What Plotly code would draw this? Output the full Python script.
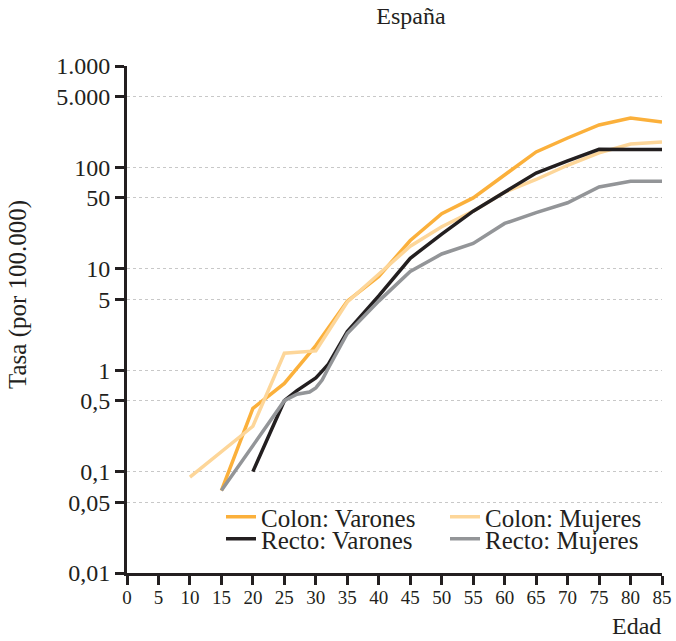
import plotly.graph_objects as go

# Data
ages_colon_v = [15, 20, 25, 30, 35, 40, 45, 50, 55, 60, 65, 70, 75, 80, 85]
colon_varones = [0.065, 0.42, 0.74, 1.75, 4.8, 8.4, 19, 35, 50, 84, 142, 195, 262, 307, 280]

ages_colon_m = [10, 20, 25, 30, 35, 40, 45, 50, 55, 60, 65, 70, 75, 80, 85]
colon_mujeres = [0.088, 0.28, 1.47, 1.55, 4.7, 8.9, 16.7, 26, 37, 57, 76, 105, 139, 170, 178]

ages_recto_v = [20, 25, 27, 30, 31, 32, 35, 40, 45, 50, 55, 60, 65, 70, 75, 80, 85]
recto_varones = [0.10, 0.50, 0.63, 0.84, 0.98, 1.15, 2.4, 5.4, 12.7, 22, 37, 57, 88, 116, 151, 150, 150]

ages_recto_m = [15, 20, 25, 27, 29, 30, 31, 32, 35, 40, 45, 50, 55, 60, 65, 70, 75, 80, 85]
recto_mujeres = [0.065, 0.18, 0.50, 0.58, 0.61, 0.67, 0.80, 1.05, 2.3, 4.8, 9.4, 14, 17.8, 28, 35.8, 44.8, 64, 73, 73]

y_tickvals = [0.01, 0.05, 0.1, 0.5, 1, 5, 10, 50, 100, 500, 1000]
y_ticktext = ["0,01", "0,05", "0,1", "0,5", "1", "5", "10", "50", "100", "5.000", "1.000"]
x_tickvals = list(range(0, 90, 5))

FONT = "Liberation Serif"
INK = "#231F20"

W, H = 676, 641
L, R, T, B = 127, 14, 66, 68
PW, PH = W - L - R, H - T - B


def px_x(px):
    return (px - L) / PW


def px_y(py):
    return (H - B - py) / PH


series = [
    ("Colon: Varones", ages_colon_v, colon_varones, "#FBB03B", "legend", 221, 517),
    ("Colon: Mujeres", ages_colon_m, colon_mujeres, "#FDD699", "legend2", 445, 517),
    ("Recto: Varones", ages_recto_v, recto_varones, INK, "legend3", 221, 539),
    ("Recto: Mujeres", ages_recto_m, recto_mujeres, "#939598", "legend4", 445, 539),
]

fig = go.Figure()
legend_cfg = {}
for name, xs, ys, col, lg, lx, ly in series:
    fig.add_trace(go.Scatter(x=xs, y=ys, mode="lines", name=name, legend=lg,
                             line=dict(color=col, width=3.5)))
    legend_cfg[lg] = dict(orientation="h", x=px_x(lx), xanchor="left",
                          y=px_y(ly), yanchor="middle",
                          font=dict(family=FONT, size=25, color=INK),
                          bgcolor="rgba(0,0,0,0)", borderwidth=0)

fig.update_layout(
    width=W, height=H,
    margin=dict(l=L, r=R, t=T, b=B, pad=0, autoexpand=False),
    plot_bgcolor="white", paper_bgcolor="white",
    font=dict(family=FONT, color=INK, size=24),
    title=dict(text="España", x=411 / W, xanchor="center", xref="container",
               y=1 - 16 / H, yanchor="middle", yref="container",
               font=dict(family=FONT, size=24, color=INK)),
    showlegend=True,
    **legend_cfg,
)

fig.update_xaxes(range=[0, 85], tickvals=x_tickvals, showgrid=False, zeroline=False,
                 showline=True, linecolor=INK, linewidth=3, automargin=False,
                 ticks="outside", ticklen=9, tickwidth=3, tickcolor=INK,
                 ticklabelstandoff=-4,
                 tickfont=dict(family=FONT, size=19, color=INK))
fig.update_yaxes(type="log", range=[-2, 3], tickvals=y_tickvals, ticktext=y_ticktext,
                 showgrid=True, gridcolor="#c8c8c8", gridwidth=1, griddash="dot",
                 zeroline=False, showline=True, linecolor=INK, linewidth=3, automargin=False,
                 ticks="outside", ticklen=9, tickwidth=3, tickcolor=INK,
                 ticklabelstandoff=0,
                 tickfont=dict(family=FONT, size=24, color=INK))

fig.add_annotation(text="Tasa (por 100.000)", textangle=-90, xref="paper", yref="paper",
                   x=px_x(18), y=px_y(295), xanchor="center", yanchor="middle",
                   showarrow=False, font=dict(family=FONT, size=25, color=INK))
fig.add_annotation(text="Edad", xref="paper", yref="paper",
                   x=px_x(636), y=px_y(641), xanchor="center", yanchor="bottom",
                   showarrow=False, font=dict(family=FONT, size=24, color=INK))

fig.write_html("out.html")
